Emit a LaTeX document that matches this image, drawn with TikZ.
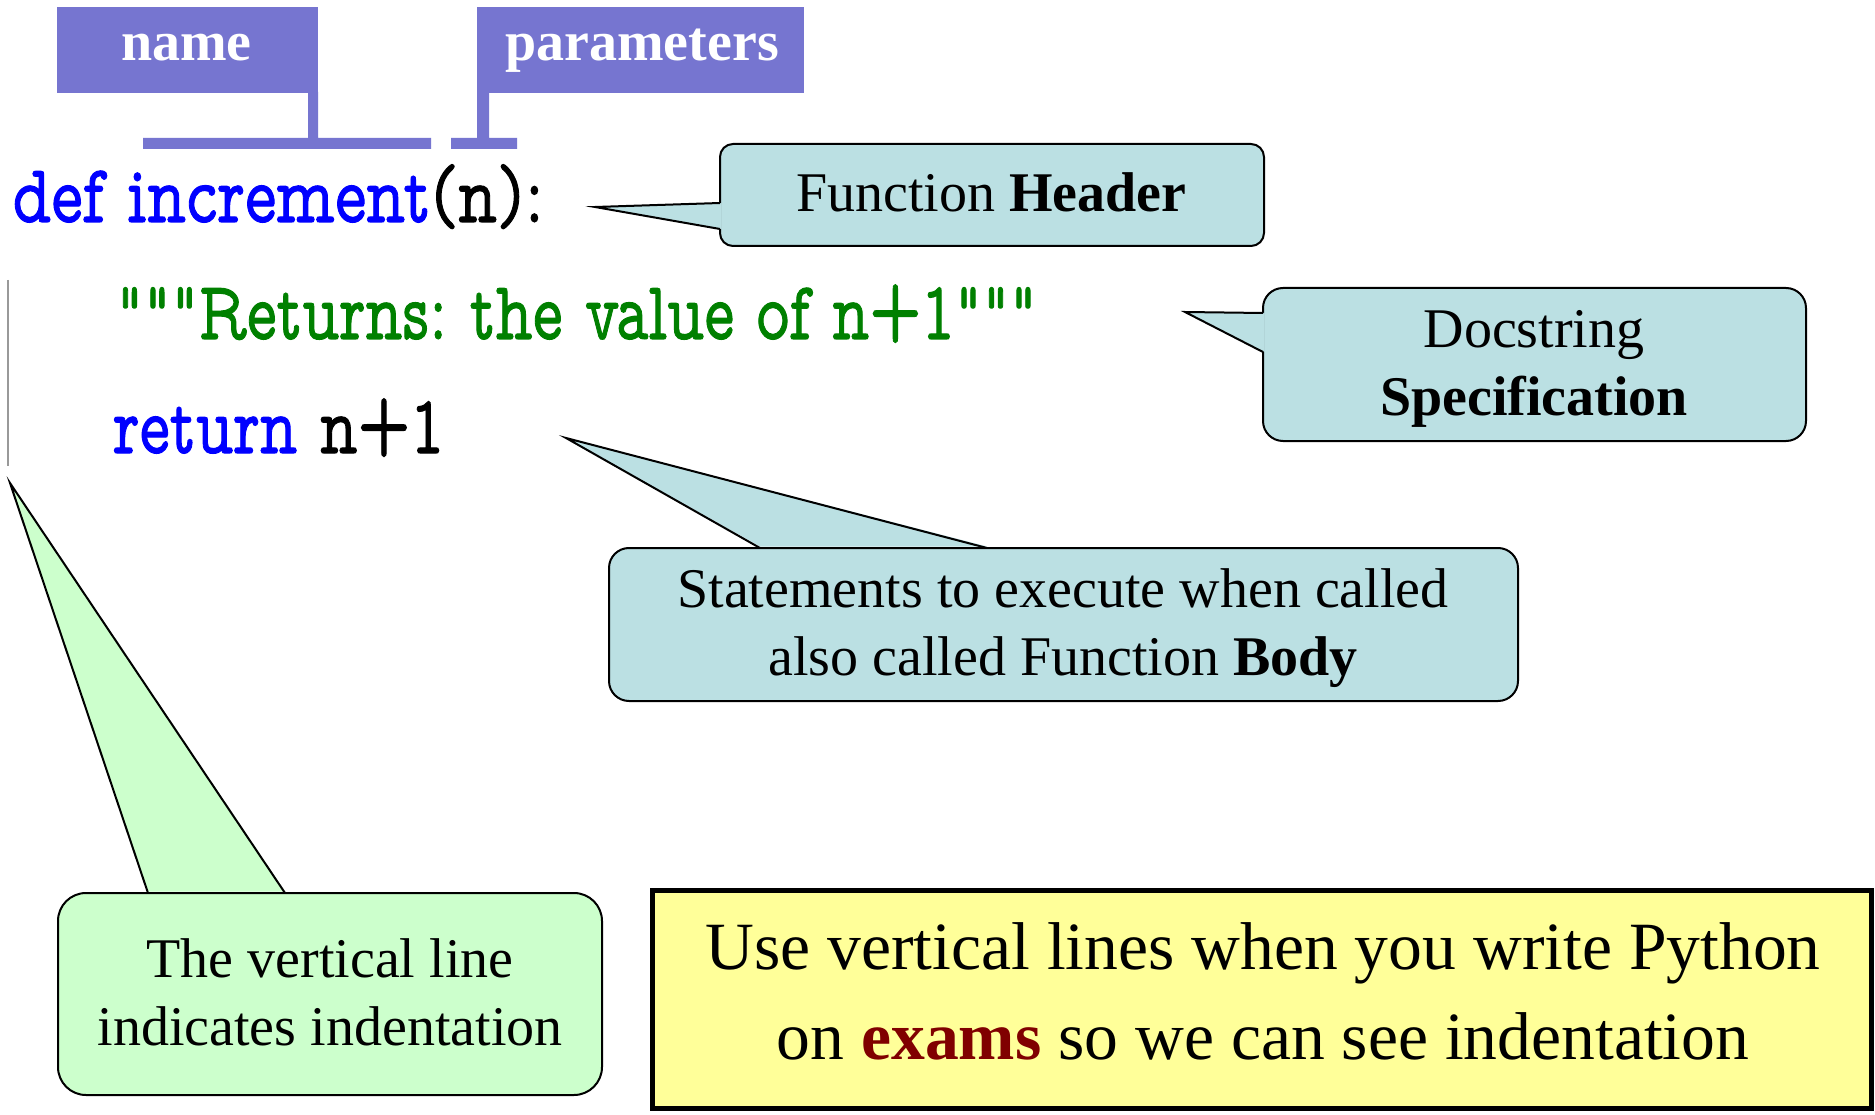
\documentclass[tikz,border=0pt]{standalone}
\usepackage{fontspec}
\setmainfont{Liberation Serif}
\newfontfamily\codefont[FakeBold=1.3]{lmmonoprop10-regular.otf}
\usepackage{graphicx}
\frenchspacing

\definecolor{tagblue}{RGB}{118,117,208}
\definecolor{bubbleblue}{RGB}{187,224,227}
\definecolor{bubblegreen}{RGB}{204,255,204}
\definecolor{notefill}{RGB}{255,255,153}
\definecolor{codegreen}{RGB}{0,128,0}
\definecolor{codeblue}{RGB}{0,0,255}
\definecolor{examred}{RGB}{128,0,0}

% one line of code, squeezed to a given width
\newcommand{\codetext}[2]{\resizebox{#1}{\height}{\fontsize{83}{83}\codefont #2}}

\begin{document}
\begin{tikzpicture}[x=1pt,y=-1pt,
  tagbox/.style={fill=tagblue, inner sep=0},
  tagtext/.style={text=white, font=\fontsize{56}{56}\selectfont\bfseries, anchor=base, inner sep=0},
  bubble/.style={draw=black, line width=2pt, inner sep=0},
  bubbletext/.style={font=\fontsize{56}{56}\selectfont, anchor=base, inner sep=0},
  notetext/.style={font=\fontsize{67.6}{67.6}\selectfont, anchor=base, inner sep=0},
  code/.style={anchor=base west, inner sep=0},
  pointer/.style={draw=black, line width=2pt, line join=miter}]

\useasboundingbox (0,0) rectangle (1875,1115);
\fill[white] (0,0) rectangle (1875,1115);

% ---- tags for name and parameters ----
\node[tagbox, minimum width=261, minimum height=86] (nametag) at (187.5,50) {};
\node[tagtext] (nametxt) at (186.5,61) {name};
\fill[tagblue] (308,92) rectangle (318,138) (143,138) rectangle (431,149);

\node[tagbox, minimum width=327, minimum height=86] (paramtag) at (640.5,50) {};
\node[tagtext] (paramtxt) at (642,61) {parameters};
\fill[tagblue] (477,92) rectangle (489,138) (451,138) rectangle (517,149);

% ---- code ----
\node[code] (line1) at (12,222) {\codetext{532pt}{\color{codeblue}def increment\color{black}(n):}};
\node[code] (line2) at (116,339) {\codetext{921pt}{\color{codegreen}"""Returns: the value of n+1"""}};
\node[code] (line3) at (113,453) {\codetext{331pt}{\color{codeblue}return \color{black}n+1}};

% indentation marker
\draw[gray!80, line width=2pt] (8,280) -- (8,466);

% ---- Function Header callout ----
\node[bubble, fill=bubbleblue, rounded corners=13pt, minimum width=544, minimum height=102] (hdr) at (992,195) {};
\coordinate (hdr-tip) at (595,207);
\coordinate (hdr-a) at (720,203);
\coordinate (hdr-b) at (720,229);
\fill[bubbleblue] (hdr-tip) -- ([xshift=1.5pt]hdr-a) -- ([xshift=1.5pt]hdr-b) -- cycle;
\draw[pointer] (hdr-a) -- (hdr-tip) -- (hdr-b);
\node[bubbletext] (hdrtxt) at (991.5,212) {Function \textbf{Header}};

% ---- Docstring callout ----
\node[bubble, fill=bubbleblue, rounded corners=20pt, minimum width=543, minimum height=153] (doc) at (1534.5,364.5) {};
\coordinate (doc-tip) at (1185,312);
\coordinate (doc-a) at (1263,313);
\coordinate (doc-b) at (1263,352);
\fill[bubbleblue] (doc-tip) -- ([xshift=1.5pt]doc-a) -- ([xshift=1.5pt]doc-b) -- cycle;
\draw[pointer] (doc-a) -- (doc-tip) -- (doc-b);
\node[bubbletext] (doctxt1) at (1534,348) {Docstring};
\node[bubbletext] (doctxt2) at (1534,415) {\textbf{Specification}};

% ---- Function Body callout ----
\node[bubble, fill=bubbleblue, rounded corners=20pt, minimum width=909, minimum height=153] (body) at (1063.5,624.5) {};
\coordinate (body-tip) at (566,438);
\coordinate (body-a) at (760,548);
\coordinate (body-b) at (987,548);
\fill[bubbleblue] (body-tip) -- ([yshift=1.5pt]body-a) -- ([yshift=1.5pt]body-b) -- cycle;
\draw[pointer] (body-a) -- (body-tip) -- (body-b);
\node[bubbletext] (bodytxt1) at (1063,607) {Statements to execute when called};
\node[bubbletext] (bodytxt2) at (1063,675) {also called Function \textbf{Body}};

% ---- indentation callout ----
\node[bubble, fill=bubblegreen, rounded corners=28pt, minimum width=544, minimum height=202] (indent) at (330,994) {};
\coordinate (indent-tip) at (10,483);
\coordinate (indent-a) at (148,893);
\coordinate (indent-b) at (285,893);
\fill[bubblegreen] (indent-tip) -- ([yshift=1.5pt]indent-a) -- ([yshift=1.5pt]indent-b) -- cycle;
\draw[pointer] (indent-a) -- (indent-tip) -- (indent-b);
\node[bubbletext] (indtxt1) at (330,977) {The vertical line};
\node[bubbletext] (indtxt2) at (330,1045) {indicates indentation};

% ---- exam note ----
\node[draw=black, line width=5pt, fill=notefill, inner sep=0, minimum width=1219, minimum height=218] (note) at (1262,999.5) {};
\node[notetext] (notetxt1) at (1263,969) {Use vertical lines when you write Python};
\node[notetext] (notetxt2) at (1263,1059) {on \textcolor{examred}{\textbf{exams}} so we can see indentation};

\end{tikzpicture}
\end{document}
